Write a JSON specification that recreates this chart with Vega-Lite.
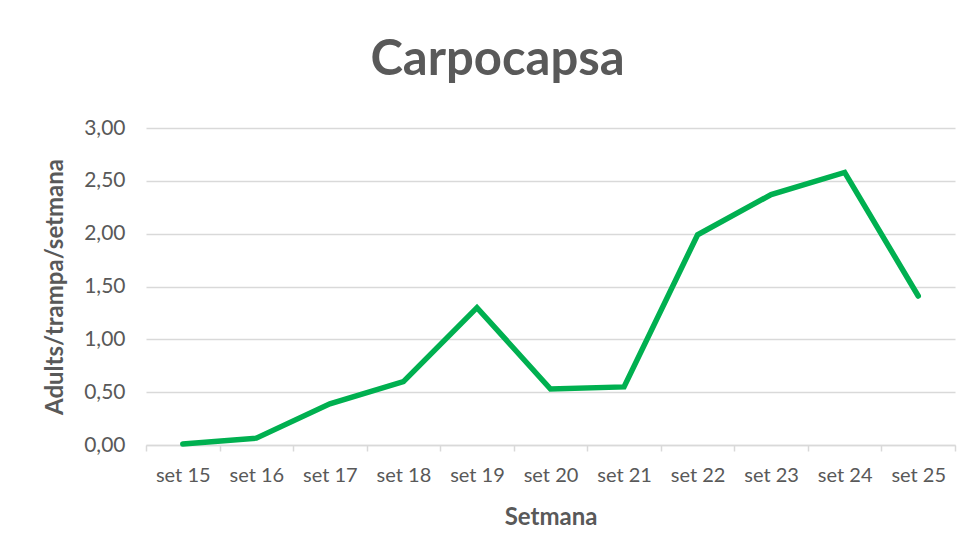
{
  "$schema": "https://vega.github.io/schema/vega-lite/v6.json",
  "width": 809,
  "height": 317,
  "autosize": {"type": "none"},
  "padding": {"left": 146, "top": 128, "right": 18, "bottom": 110},
  "background": "white",
  "title": {
    "text": "Carpocapsa",
    "font": "Lato",
    "fontSize": 49,
    "fontWeight": "bold",
    "color": "#595959",
    "anchor": "middle",
    "dx": -53,
    "baseline": "alphabetic",
    "offset": 43,
    "dy": 50
  },
  "data": {
    "values": [
      {"setmana": "set 15", "valor": 0.01},
      {"setmana": "set 16", "valor": 0.065},
      {"setmana": "set 17", "valor": 0.39},
      {"setmana": "set 18", "valor": 0.60},
      {"setmana": "set 19", "valor": 1.30},
      {"setmana": "set 20", "valor": 0.53},
      {"setmana": "set 21", "valor": 0.55},
      {"setmana": "set 22", "valor": 1.99},
      {"setmana": "set 23", "valor": 2.37},
      {"setmana": "set 24", "valor": 2.58},
      {"setmana": "set 25", "valor": 1.41}
    ]
  },
  "config": {
    "view": {"stroke": null},
    "axis": {
      "labelFont": "Lato",
      "titleFont": "Lato",
      "labelColor": "#595959",
      "titleColor": "#595959",
      "labelFontSize": 20,
      "titleFontSize": 24,
      "titleFontWeight": "bold"
    }
  },
  "mark": {"type": "line", "color": "#00B050", "strokeWidth": 5.5, "strokeCap": "round", "strokeJoin": "miter"},
  "encoding": {
    "x": {
      "field": "setmana",
      "type": "ordinal",
      "sort": null,
      "scale": {"paddingInner": 0, "paddingOuter": 0},
      "axis": {
        "title": "Setmana",
        "labelAngle": 0,
        "tickBand": "extent",
        "grid": false,
        "domainColor": "#d9d9d9",
        "domainWidth": 1.5,
        "tickColor": "#d9d9d9",
        "tickWidth": 1.5,
        "tickSize": 6,
        "labelPadding": 14,
        "titlePadding": 20
      }
    },
    "y": {
      "field": "valor",
      "type": "quantitative",
      "scale": {"domain": [0, 3], "nice": false},
      "axis": {
        "title": "Adults/trampa/setmana",
        "values": [0, 0.5, 1, 1.5, 2, 2.5, 3],
        "labelExpr": "replace(format(datum.value, '.2f'), '.', ',')",
        "labelFontSize": 21,
        "domain": false,
        "ticks": false,
        "gridColor": "#d9d9d9",
        "gridWidth": 1.5,
        "labelPadding": 21,
        "titlePadding": 16
      }
    }
  }
}
